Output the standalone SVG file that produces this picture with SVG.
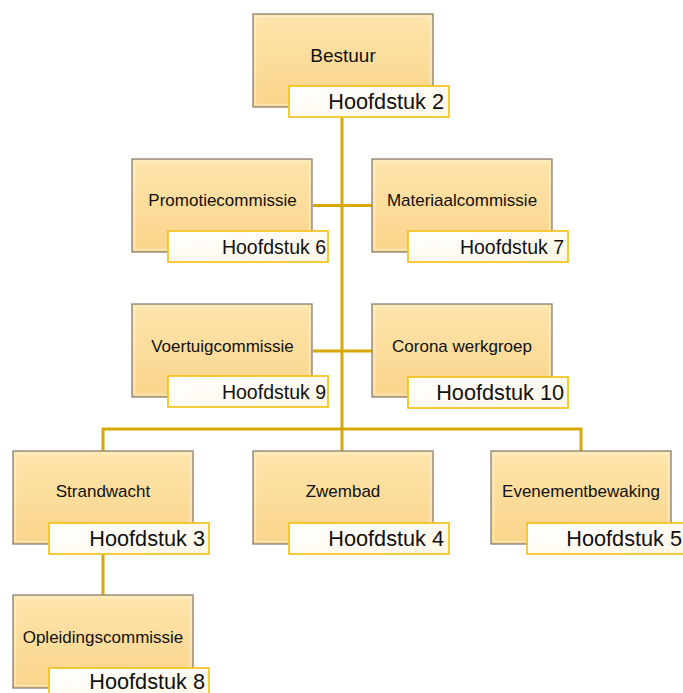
<svg xmlns="http://www.w3.org/2000/svg" width="683" height="693" viewBox="0 0 683 693">
<defs>
<linearGradient id="boxg" x1="0" y1="0" x2="0" y2="1">
<stop offset="0" stop-color="#FDE5AC"/>
<stop offset="1" stop-color="#FAD48A"/>
</linearGradient>
<linearGradient id="labg" x1="0" y1="0" x2="1" y2="1">
<stop offset="0" stop-color="#FFFFFF"/>
<stop offset="1" stop-color="#FFF7E6"/>
</linearGradient>
<style>
.box{fill:url(#boxg);stroke:#8A7F70;stroke-width:1.3}
.hi{fill:none;stroke:#FFF3D6;stroke-opacity:0.6;stroke-width:1.5}
.lab{fill:url(#labg);stroke:#F3C21A;stroke-width:1.7}
.name{font-family:"Liberation Sans",Arial,sans-serif;font-size:17px;fill:#111;text-anchor:middle}
.big{font-size:19px}
.ch{font-family:"Liberation Sans",Arial,sans-serif;font-size:21.7px;fill:#111;text-anchor:end}
.sm{font-size:19.5px}
.con{fill:none;stroke:#D8A904;stroke-width:3}
</style>
</defs>
<rect width="683" height="693" fill="#FFFFFF"/>
<g id="connectors">
<path class="con" d="M342 116 V451"/>
<path class="con" d="M313 205.5 H372"/>
<path class="con" d="M313 351 H372"/>
<path class="con" d="M103 451 V429 H581 V451"/>
<path class="con" d="M103 554 V595"/>
</g>
<g id="bestuur">
<rect class="box" x="253" y="14" width="180" height="93"/>
<rect class="hi" x="255.5" y="16.5" width="175" height="88"/>
<text class="name big" x="343" y="62">Bestuur</text>
<rect class="lab" x="289" y="86" width="160" height="31"/>
<text class="ch" x="444" y="109">Hoofdstuk 2</text>
</g>
<g id="promotiecommissie">
<rect class="box" x="132" y="159" width="180" height="93"/>
<rect class="hi" x="134.5" y="161.5" width="175" height="88"/>
<text class="name" x="222.5" y="206">Promotiecommissie</text>
<rect class="lab" x="168" y="231" width="160" height="31"/>
<text class="ch sm" x="326" y="254">Hoofdstuk 6</text>
</g>
<g id="materiaalcommissie">
<rect class="box" x="372" y="159" width="180" height="93"/>
<rect class="hi" x="374.5" y="161.5" width="175" height="88"/>
<text class="name" x="462" y="206">Materiaalcommissie</text>
<rect class="lab" x="408" y="231" width="160" height="31"/>
<text class="ch sm" x="564" y="254">Hoofdstuk 7</text>
</g>
<g id="voertuigcommissie">
<rect class="box" x="132" y="304" width="180" height="93"/>
<rect class="hi" x="134.5" y="306.5" width="175" height="88"/>
<text class="name" x="222.5" y="352">Voertuigcommissie</text>
<rect class="lab" x="168" y="376" width="160" height="31"/>
<text class="ch sm" x="326" y="399">Hoofdstuk 9</text>
</g>
<g id="corona">
<rect class="box" x="372" y="304" width="180" height="93"/>
<rect class="hi" x="374.5" y="306.5" width="175" height="88"/>
<text class="name" x="462" y="352">Corona werkgroep</text>
<rect class="lab" x="408" y="377" width="160" height="31"/>
<text class="ch" x="564" y="400">Hoofdstuk 10</text>
</g>
<g id="strandwacht">
<rect class="box" x="13" y="451" width="180" height="93"/>
<rect class="hi" x="15.5" y="453.5" width="175" height="88"/>
<text class="name" x="103" y="497">Strandwacht</text>
<rect class="lab" x="49" y="523" width="160" height="31"/>
<text class="ch" x="205" y="546">Hoofdstuk 3</text>
</g>
<g id="zwembad">
<rect class="box" x="253" y="451" width="180" height="93"/>
<rect class="hi" x="255.5" y="453.5" width="175" height="88"/>
<text class="name" x="343" y="497">Zwembad</text>
<rect class="lab" x="289" y="523" width="160" height="31"/>
<text class="ch" x="444" y="546">Hoofdstuk 4</text>
</g>
<g id="evenementbewaking">
<rect class="box" x="491" y="451" width="180" height="93"/>
<rect class="hi" x="493.5" y="453.5" width="175" height="88"/>
<text class="name" x="581" y="497">Evenementbewaking</text>
<rect class="lab" x="527" y="523" width="160" height="31"/>
<text class="ch" x="682" y="546">Hoofdstuk 5</text>
</g>
<g id="opleidingscommissie">
<rect class="box" x="13" y="595" width="180" height="93"/>
<rect class="hi" x="15.5" y="597.5" width="175" height="88"/>
<text class="name" x="103" y="643">Opleidingscommissie</text>
<rect class="lab" x="49" y="668" width="160" height="31"/>
<text class="ch" x="205" y="689">Hoofdstuk 8</text>
</g>
</svg>
